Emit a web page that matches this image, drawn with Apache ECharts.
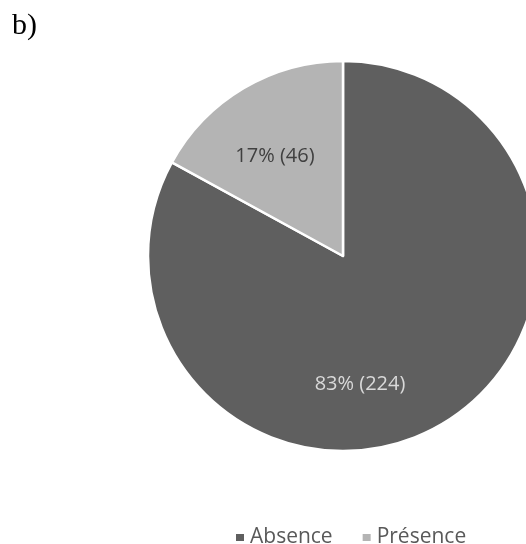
<!DOCTYPE html>
<html>
<head>
<meta charset="utf-8">
<script src="https://cdn.jsdelivr.net/npm/echarts@6/dist/echarts.min.js"></script>
<style>html,body{margin:0;padding:0;background:#fff}#c{width:526px;height:544px}</style>
</head>
<body>
<div id="c"></div>
<script>
const categories = ['Absence', 'Présence'];
const counts = [224, 46];
const percents = [83, 17];
const colors = ['#5f5f5f', '#b4b4b4'];
const labelColors = ['#d9d9d9', '#404040'];

const chart = echarts.init(document.getElementById('c'), null, {renderer: 'canvas'});
chart.setOption({
  animation: false,
  backgroundColor: '#ffffff',
  title: {
    text: 'b)', left: 12, top: 11, padding: 0,
    textStyle: {fontFamily: 'Liberation Serif', fontSize: 30, fontWeight: 'normal', color: '#000'}
  },
  legend: {
    data: categories,
    left: 234, top: 527, padding: 0,
    icon: 'rect', itemWidth: 10, itemHeight: 9, itemGap: 28,
    textStyle: {fontFamily: 'Open Sans', fontSize: 21, color: '#595959'}
  },
  series: [{
    type: 'pie',
    center: [343, 256],
    radius: 195,
    startAngle: 90,
    clockwise: true,
    data: categories.map((c, i) => ({
      name: c, value: counts[i],
      itemStyle: {color: colors[i]},
      label: {color: labelColors[i]}
    })),
    itemStyle: {borderColor: '#ffffff', borderWidth: 2.5},
    label: {
      show: true, position: 'inside',
      fontFamily: 'Open Sans', fontSize: 20,
      formatter: p => percents[p.dataIndex] + '% (' + counts[p.dataIndex] + ')'
    },
    labelLine: {show: false},
    labelLayout: function (params) {
      if (params.dataIndex === 0) return {x: 360, y: 384, align: 'center', verticalAlign: 'middle'};
      return {x: 275, y: 156, align: 'center', verticalAlign: 'middle'};
    },
    emphasis: {disabled: true}
  }]
});
</script>
</body>
</html>
